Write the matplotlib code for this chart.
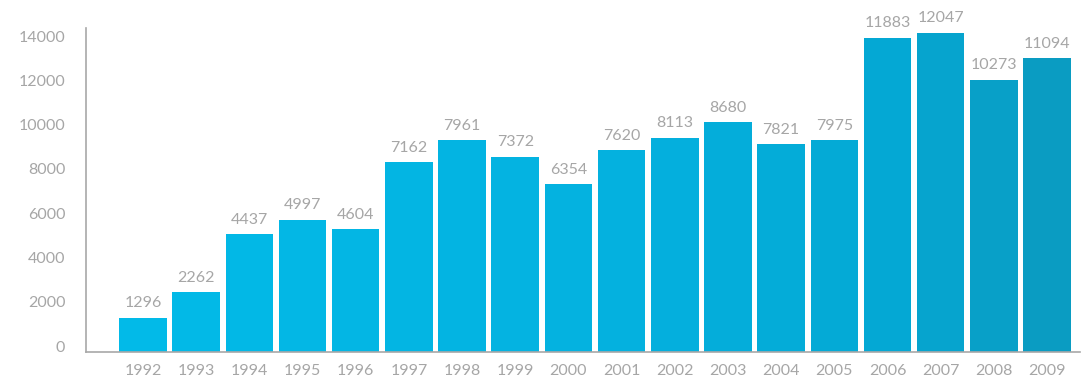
import matplotlib
matplotlib.use("Agg")
import matplotlib.pyplot as plt
import numpy as np
from matplotlib.colors import LinearSegmentedColormap
from matplotlib.transforms import ScaledTranslation

# years on the x axis
years = ["1992", "1993", "1994", "1995", "1996", "1997", "1998", "1999", "2000",
         "2001", "2002", "2003", "2004", "2005", "2006", "2007", "2008", "2009"]
# bar heights as read against the y axis
heights = [1535, 2683, 5302, 5948, 5528, 8553, 9547, 8806, 7560,
           9095, 9665, 10360, 9366, 9547, 14181, 14406, 12270, 13250]
# numbers printed above the bars
labels = [1296, 2262, 4437, 4997, 4604, 7162, 7961, 7372, 6354,
          7620, 8113, 8680, 7821, 7975, 11883, 12047, 10273, 11094]
yticks = [0, 2000, 4000, 6000, 8000, 10000, 12000, 14000]

plt.rcParams["font.family"] = ["Lato", "DejaVu Sans"]
txt_col = "#a6a6a6"
fs = 11.5

fig = plt.figure(figsize=(10.85, 3.78), dpi=100)
ax = fig.add_axes([0.0793, 0.0696, 0.9161, 0.8565])

cmap = LinearSegmentedColormap.from_list(
    "blues", [(0, "#02bae8"), (0.5, "#04b2e0"), (0.82, "#04a8d4"), (1, "#0a9cc2")])
x = np.arange(len(years))
cols = [cmap(i / (len(years) - 1)) for i in x]
bars = ax.bar(x, heights, width=0.895, color=cols)

for b, lab in zip(bars, labels):
    ax.annotate(str(lab), (b.get_x() + b.get_width() / 2, b.get_height()),
                xytext=(0, 10.5), textcoords="offset points",
                ha="center", va="center", fontsize=fs, color=txt_col)

ax.set_xlim(-1.07, 17.62)
ax.set_ylim(0, 14620)
ax.set_xticks(x, years)
ax.set_yticks(yticks, [str(v) for v in yticks])
ax.tick_params(axis="both", length=0, colors=txt_col, labelsize=fs)
ax.tick_params(axis="y", pad=15)
ax.tick_params(axis="x", pad=9)
for lab in ax.get_yticklabels():
    lab.set_transform(lab.get_transform() + ScaledTranslation(0, 4 / 72, fig.dpi_scale_trans))

for s in ["top", "right"]:
    ax.spines[s].set_visible(False)
for s in ["left", "bottom"]:
    ax.spines[s].set_color("#a8a8a8")
    ax.spines[s].set_linewidth(1.2)

fig.savefig("out.png", dpi=100)
